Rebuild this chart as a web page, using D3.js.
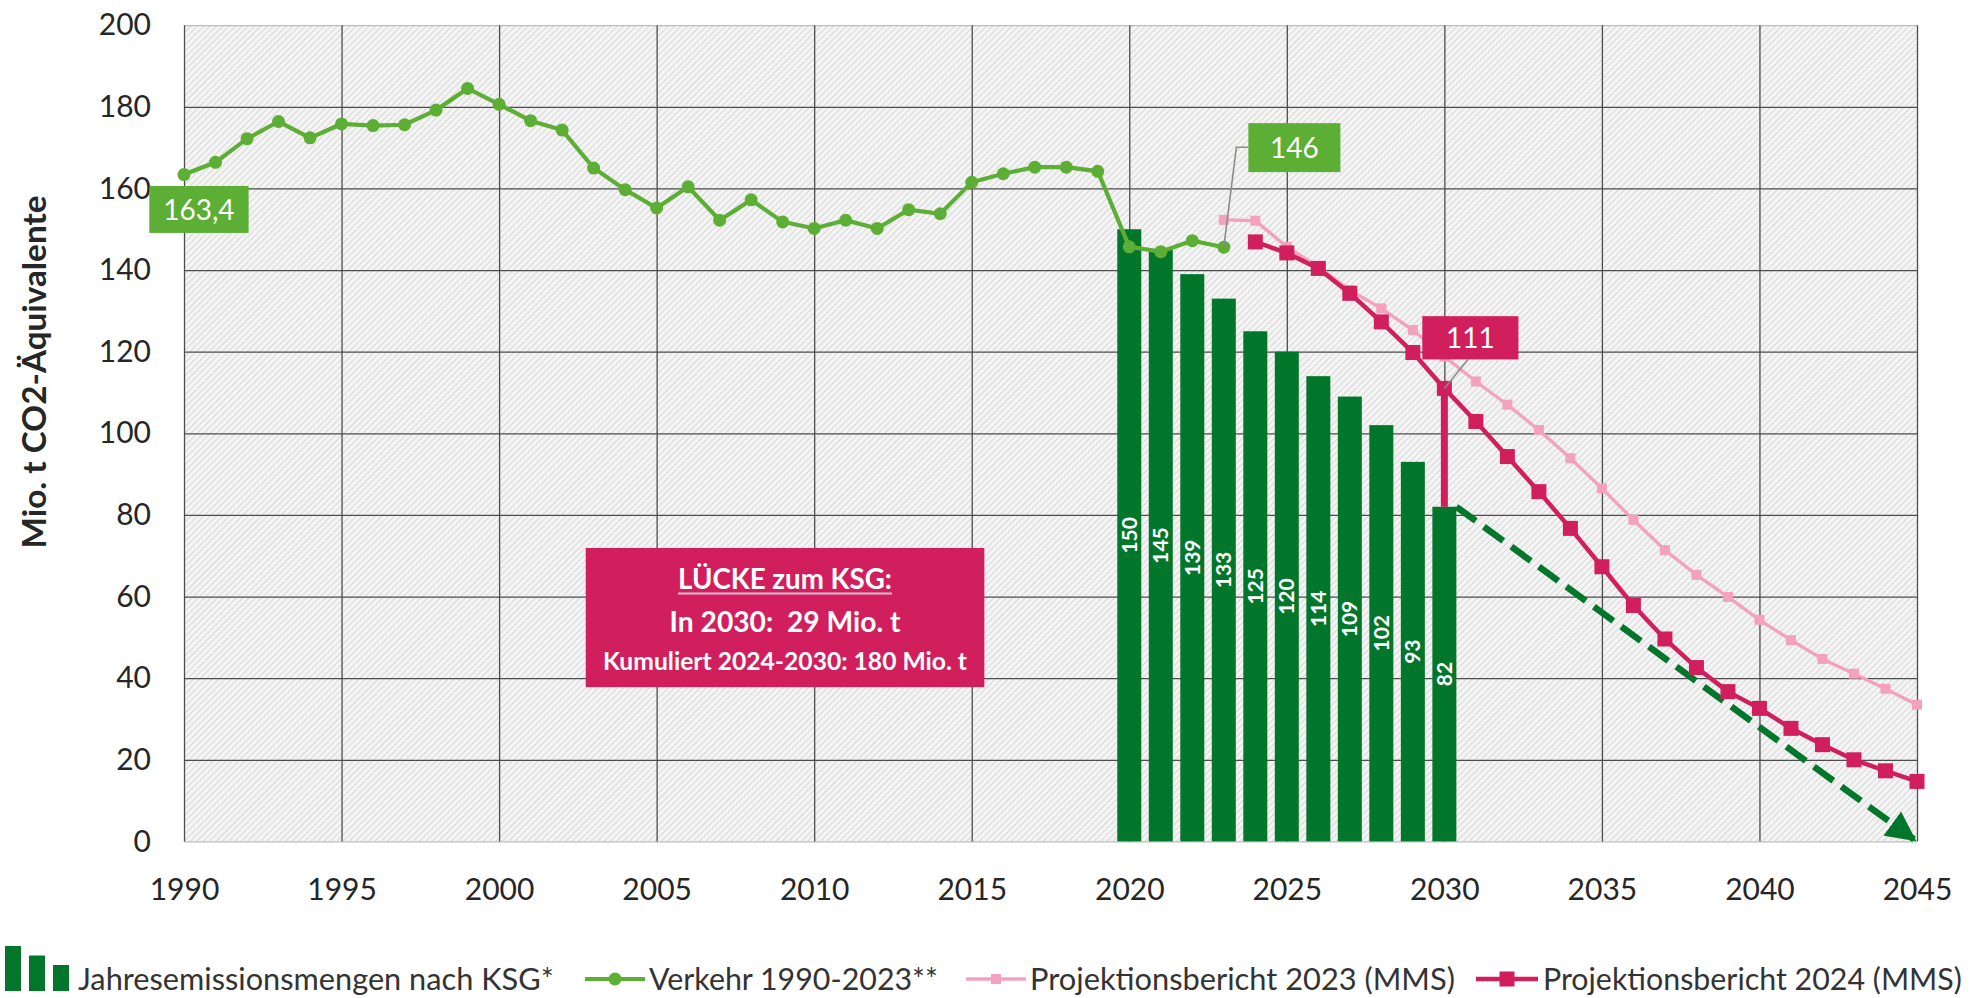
<!DOCTYPE html>
<html>
<head>
<meta charset="utf-8">
<script src="https://cdn.jsdelivr.net/npm/d3@7"></script>
<style>
  body { margin: 0; background: #fff }
  text { font-family: Lato, 'Open Sans', sans-serif }
</style>
</head>
<body>
<svg id="chart" width="1975" height="998"></svg>
<script>
// Verkehr 1990-2023 (Mio. t CO2-Äq.)
const verkehrYears = d3.range(1990, 2024)
const verkehr = [163.4, 166.4, 172.2, 176.4, 172.4, 175.8, 175.4, 175.6, 179.2, 184.5,
  180.6, 176.6, 174.3, 165.0, 159.7, 155.2, 160.4, 152.2, 157.2, 151.8,
  150.2, 152.2, 150.2, 154.8, 153.8, 161.5, 163.6, 165.2, 165.2, 164.2,
  145.7, 144.5, 147.2, 145.6]

// Jahresemissionsmengen nach KSG
const ksgYears = d3.range(2020, 2031)
const ksg = [150, 145, 139, 133, 125, 120, 114, 109, 102, 93, 82]

// Projektionsbericht 2023 (MMS)
const proj23Years = d3.range(2023, 2046)
const proj23 = [152.3, 152.1, 145.7, 140.8, 135.1, 130.6, 125.3, 118.8, 112.7, 107.0,
  100.8, 93.9, 86.5, 78.8, 71.4, 65.3, 59.9, 54.3, 49.3, 44.7, 41.1, 37.4, 33.5]

// Projektionsbericht 2024 (MMS)
const proj24Years = d3.range(2024, 2046)
const proj24 = [146.9, 144.2, 140.4, 134.3, 127.3, 119.8, 111, 102.9, 94.3, 85.7,
  76.7, 67.3, 57.8, 49.6, 42.6, 36.7, 32.6, 27.7, 23.7, 20.0, 17.3, 14.7]

const xTicks = [1990, 1995, 2000, 2005, 2010, 2015, 2020, 2025, 2030, 2035, 2040, 2045]
const yTicks = [0, 20, 40, 60, 80, 100, 120, 140, 160, 180, 200]
const legendLabels = ['Jahresemissionsmengen nach KSG*', 'Verkehr 1990-2023**',
  'Projektionsbericht 2023 (MMS)', 'Projektionsbericht 2024 (MMS)']
const gapLines = ['LÜCKE zum KSG:', 'In 2030:  29 Mio. t', 'Kumuliert 2024-2030: 180 Mio. t']
const yTitle = 'Mio. t CO2-Äquivalente'

const M = { l: 184, r: 1917, t: 25.2, b: 841.4 }
const C = { green: '#5cae34', bar: '#02772b', mag: '#d11f5d', pink: '#f4a1bd', grid: '#4d4d4d' }

const x = d3.scaleLinear().domain([1990, 2045]).range([M.l, M.r])
const y = d3.scaleLinear().domain([0, 200]).range([M.b, M.t])

const svg = d3.select('#chart')
const defs = svg.append('defs')

// diagonal hatch of the plot area
const pat = defs.append('pattern').attr('id', 'hatch')
  .attr('patternUnits', 'userSpaceOnUse').attr('width', 4.5).attr('height', 4.5)
  .attr('patternTransform', 'rotate(45)')
pat.append('rect').attr('width', 4.5).attr('height', 4.5).attr('fill', '#f4f4f4')
pat.append('line').attr('x1', 0).attr('y1', 0).attr('x2', 0).attr('y2', 4.5)
  .attr('stroke', '#c6c6c6').attr('stroke-width', 1.2)

defs.append('marker').attr('id', 'arrow')
  .attr('viewBox', '0 0 10 10').attr('refX', 9).attr('refY', 5)
  .attr('markerWidth', 4.6).attr('markerHeight', 4.6)
  .attr('orient', 'auto').attr('markerUnits', 'strokeWidth')
  .append('path').attr('d', 'M0,0L10,5L0,10z').attr('fill', C.bar)

// fit a text element to a measured width from the reference
function fit(sel, w) {
  const len = sel.node().getComputedTextLength()
  sel.attr('font-size', parseFloat(sel.attr('font-size')) * w / len)
  return sel
}

svg.append('rect')
  .attr('x', M.l).attr('y', M.t).attr('width', M.r - M.l).attr('height', M.b - M.t)
  .attr('fill', 'url(#hatch)')

// grid + axes
const gy = svg.append('g').attr('transform', `translate(${M.l},0)`)
  .call(d3.axisLeft(y).tickValues(yTicks).tickSize(-(M.r - M.l)).tickPadding(33))
gy.select('.domain').remove()
gy.selectAll('line').attr('stroke', C.grid).attr('stroke-width', 1.3)
  .filter(d => d === 0 || d === 200).attr('stroke', '#bdbdbd')
gy.selectAll('text').attr('font-size', 30).attr('fill', '#262626').attr('font-family', null)

const gx = svg.append('g').attr('transform', `translate(0,${M.b})`)
  .call(d3.axisBottom(x).tickValues(xTicks).tickSize(-(M.b - M.t)).tickPadding(37).tickFormat(d3.format('d')))
gx.select('.domain').remove()
gx.selectAll('line').attr('stroke', C.grid).attr('stroke-width', 1.3)
gx.selectAll('text').attr('font-size', 30).attr('fill', '#262626').attr('font-family', null)

// y title
fit(svg.append('text')
  .attr('transform', `translate(46,372) rotate(-90)`)
  .attr('text-anchor', 'middle').attr('font-weight', 700).attr('font-size', 26)
  .attr('fill', '#262626').text(yTitle), 353)

// KSG bars
const bw = 24
svg.append('g').selectAll('rect').data(ksg).join('rect')
  .attr('x', (d, i) => x(ksgYears[i]) - bw / 2).attr('width', bw)
  .attr('y', d => y(d)).attr('height', d => y(0) - y(d))
  .attr('fill', C.bar)

svg.append('g').selectAll('text').data(ksg).join('text')
  .attr('transform', (d, i) => `translate(${x(ksgYears[i]) + 7.5},${y(d / 2)}) rotate(-90)`)
  .attr('text-anchor', 'middle').attr('font-size', 21).attr('font-weight', 700)
  .attr('fill', '#fff').text(d => d)

// dashed path to zero in 2045
const last = ksg[ksg.length - 1]
svg.append('path')
  .attr('d', d3.line()([[x(2030) + bw / 2, y(last)], [x(2045) - 3, y(0) - 2]]))
  .attr('stroke', C.bar).attr('stroke-width', 6.5).attr('stroke-dasharray', '24,10')
  .attr('fill', 'none').attr('marker-end', 'url(#arrow)')

const line = d3.line().x(d => x(d[0])).y(d => y(d[1]))

// Projektionsbericht 2023
svg.append('path').datum(d3.zip(proj23Years, proj23)).attr('d', line)
  .attr('fill', 'none').attr('stroke', C.pink).attr('stroke-width', 3.3)
svg.append('g').selectAll('rect').data(d3.zip(proj23Years, proj23)).join('rect')
  .attr('x', d => x(d[0]) - 5).attr('y', d => y(d[1]) - 5)
  .attr('width', 10).attr('height', 10).attr('fill', C.pink)

// gap 2030
const p30 = proj24[proj24Years.indexOf(2030)]
svg.append('line')
  .attr('x1', x(2030)).attr('x2', x(2030)).attr('y1', y(last)).attr('y2', y(p30))
  .attr('stroke', C.mag).attr('stroke-width', 7)

// Projektionsbericht 2024
svg.append('path').datum(d3.zip(proj24Years, proj24)).attr('d', line)
  .attr('fill', 'none').attr('stroke', C.mag).attr('stroke-width', 4.5)
svg.append('g').selectAll('rect').data(d3.zip(proj24Years, proj24)).join('rect')
  .attr('x', d => x(d[0]) - 7.5).attr('y', d => y(d[1]) - 7.5)
  .attr('width', 15).attr('height', 15).attr('fill', C.mag)

// Verkehr
svg.append('path').datum(d3.zip(verkehrYears, verkehr)).attr('d', line)
  .attr('fill', 'none').attr('stroke', C.green).attr('stroke-width', 4.2)
svg.append('g').selectAll('circle').data(d3.zip(verkehrYears, verkehr)).join('circle')
  .attr('cx', d => x(d[0])).attr('cy', d => y(d[1])).attr('r', 6.5).attr('fill', C.green)

// value boxes
function valueBox(x0, x1, yTop, yBot, label, fill, leader) {
  if (leader) svg.append('path').attr('d', d3.line()(leader.map(p => [x(p[0]), y(p[1])])))
    .attr('fill', 'none').attr('stroke', '#8c8c8c').attr('stroke-width', 1.6)
  svg.append('rect').attr('x', x(x0)).attr('y', y(yTop))
    .attr('width', x(x1) - x(x0)).attr('height', y(yBot) - y(yTop)).attr('fill', fill)
  svg.append('text').attr('x', (x(x0) + x(x1)) / 2).attr('y', (y(yTop) + y(yBot)) / 2)
    .attr('dy', '0.36em').attr('text-anchor', 'middle').attr('font-size', 28)
    .attr('fill', '#fff').text(label)
}
valueBox(1988.9, 1992.05, 160.6, 149.1, d3.format('.1f')(verkehr[0]).replace('.', ','), C.green)
const v23 = verkehr[verkehr.length - 1]
valueBox(2023.78, 2026.7, 176, 164, Math.round(v23), C.green,
  [[2023.78, 170.1], [2023.4, 170.1], [2023, v23]])
valueBox(2029.3, 2032.35, 128.7, 118.1, Math.round(p30), C.mag,
  [[2030.75, 118.1], [2030, p30]])

// gap annotation
const bx0 = x(2002.75), bx1 = x(2015.4)
svg.append('rect').attr('x', bx0).attr('y', y(71.9))
  .attr('width', bx1 - bx0).attr('height', y(37.8) - y(71.9)).attr('fill', C.mag)
const bc = (bx0 + bx1) / 2
fit(svg.append('text').attr('x', bc).attr('y', y(64.2)).attr('dy', '0.36em')
  .attr('text-anchor', 'middle').attr('font-size', 24).attr('font-weight', 700)
  .attr('fill', '#fff').text(gapLines[0]), 214)
svg.append('line').attr('x1', bc - 107).attr('x2', bc + 107)
  .attr('y1', y(64.2) + 14).attr('y2', y(64.2) + 14)
  .attr('stroke', '#f3bfd0').attr('stroke-width', 2)
fit(svg.append('text').attr('x', bc).attr('y', y(53.8)).attr('dy', '0.36em')
  .attr('text-anchor', 'middle').attr('font-size', 24).attr('font-weight', 700)
  .attr('fill', '#fff').attr('xml:space', 'preserve').text(gapLines[1]), 231)
fit(svg.append('text').attr('x', bc).attr('y', y(44.2)).attr('dy', '0.36em')
  .attr('text-anchor', 'middle').attr('font-size', 20).attr('font-weight', 700)
  .attr('fill', '#fff').text(gapLines[2]), 364)

// legend
const ly = 979
const lg = svg.append('g')
lg.selectAll('rect').data(ksg.slice(0, 3)).join('rect')
  .attr('x', (d, i) => 5 + i * 24).attr('width', 16)
  .attr('y', (d, i) => 946 + i * 9.5).attr('height', (d, i) => 991 - 946 - i * 9.5)
  .attr('fill', C.bar)

const icons = [
  { x0: 585, x1: 645, color: C.green, w: 4.2, mark: 'circle', s: 6.5 },
  { x0: 966, x1: 1026, color: C.pink, w: 3.3, mark: 'rect', s: 10 },
  { x0: 1476, x1: 1538, color: C.mag, w: 4.5, mark: 'rect', s: 15 }
]
icons.forEach(ic => {
  lg.append('line').attr('x1', ic.x0).attr('x2', ic.x1).attr('y1', ly).attr('y2', ly)
    .attr('stroke', ic.color).attr('stroke-width', ic.w)
  const cx = (ic.x0 + ic.x1) / 2
  if (ic.mark === 'circle') lg.append('circle').attr('cx', cx).attr('cy', ly).attr('r', ic.s).attr('fill', ic.color)
  else lg.append('rect').attr('x', cx - ic.s / 2).attr('y', ly - ic.s / 2)
    .attr('width', ic.s).attr('height', ic.s).attr('fill', ic.color)
})

const legendPos = [[78, 476], [649, 289], [1030, 425], [1543, 419]]
legendLabels.forEach((t, i) => {
  fit(lg.append('text').attr('x', legendPos[i][0]).attr('y', ly).attr('dy', '0.36em')
    .attr('font-size', 28).attr('fill', '#333').text(t), legendPos[i][1])
})
</script>
</body>
</html>
